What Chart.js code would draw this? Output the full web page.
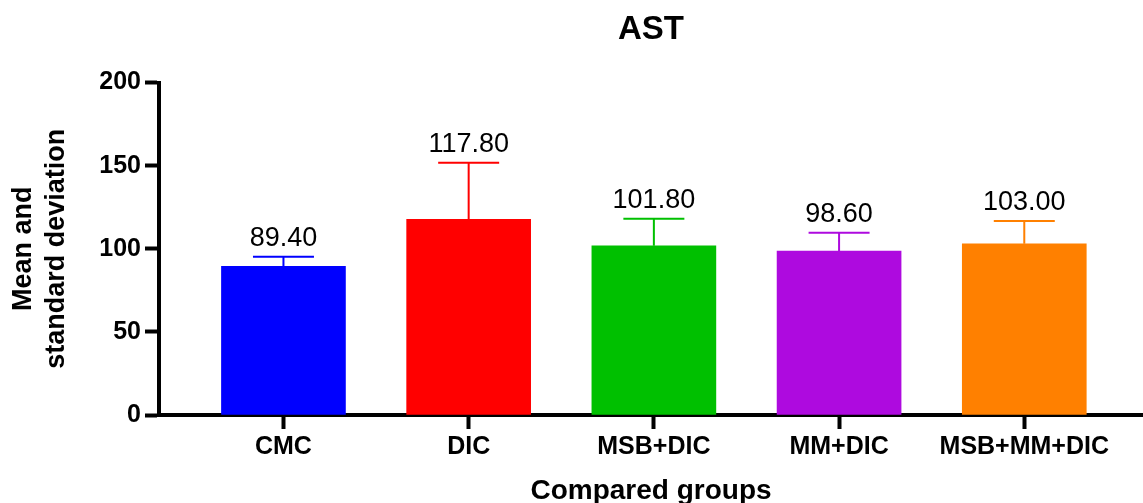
<!DOCTYPE html>
<html>
<head>
<meta charset="utf-8">
<script src="https://cdn.jsdelivr.net/npm/chart.js@4"></script>
<style>
  body { margin: 0; background: #fff; }
  canvas { display: block; }
</style>
</head>
<body>
<canvas id="chart" width="1143" height="503"></canvas>
<script>
// AST values per group
const groups = ["CMC", "DIC", "MSB+DIC", "MM+DIC", "MSB+MM+DIC"];
const means = [89.40, 117.80, 101.80, 98.60, 103.00];
const sds = [5.8, 34.0, 16.3, 11.0, 13.7];
const barColors = ["#0000FF", "#FF0000", "#00C000", "#AE0ADF", "#FF8000"];
const yTicks = [0, 50, 100, 150, 200];

Chart.defaults.font.family = "'Liberation Sans', Arial, sans-serif";
Chart.defaults.color = "#000";

// error bars + mean labels drawn on top of bars
const errorBars = {
    id: "errorBars",
    afterDatasetsDraw(chart) {
        const ctx = chart.ctx;
        const yScale = chart.scales.y;
        const meta = chart.getDatasetMeta(0);
        ctx.save();
        for (let i = 0; i < meta.data.length; i++) {
            const bar = meta.data[i];
            const yTop = yScale.getPixelForValue(means[i] + sds[i]);
            ctx.strokeStyle = barColors[i];
            ctx.lineWidth = 2;
            ctx.beginPath();
            ctx.moveTo(bar.x, bar.y);
            ctx.lineTo(bar.x, yTop);
            ctx.moveTo(bar.x - 30.5, yTop);
            ctx.lineTo(bar.x + 30.5, yTop);
            ctx.stroke();

            ctx.fillStyle = "#000";
            ctx.font = "27px 'Liberation Sans', Arial, sans-serif";
            ctx.textAlign = "center";
            ctx.textBaseline = "alphabetic";
            ctx.fillText(means[i].toFixed(2), bar.x, yTop - 11);
        }
        ctx.restore();
    }
};

const chart = new Chart(document.getElementById("chart"), {
    type: "bar",
    data: {
        datasets: [{
            data: means.map((m, i) => ({x: i + 1, y: m})),
            backgroundColor: barColors,
            borderWidth: 0,
            barThickness: 124,
        }],
    },
    options: {
        responsive: false,
        animation: false,
        layout: { padding: 0 },
        plugins: {
            legend: { display: false },
            tooltip: { enabled: false },
            title: {
                display: true,
                text: "AST",
                fullSize: false,
                font: { size: 33, weight: "bold" },
                padding: { top: 10, bottom: 33 },
            },
        },
        scales: {
            x: {
                type: "linear",
                min: 0.328,
                max: 5.641,
                offset: false,
                afterBuildTicks: (scale) => {
                    scale.ticks = groups.map((g, i) => ({value: i + 1}));
                },
                afterFit: (scale) => { scale.height = 88; },
                ticks: {
                    callback: (v) => groups[v - 1],
                    font: { size: 25, weight: "bold" },
                    padding: 3,
                    maxRotation: 0,
                    autoSkip: false,
                },
                grid: {
                    offset: false,
                    drawOnChartArea: false,
                    tickLength: 14,
                    tickWidth: 4,
                    tickColor: "#000",
                },
                border: { display: true, color: "#000", width: 4 },
                title: {
                    display: true,
                    text: "Compared groups",
                    font: { size: 28, weight: "bold", lineHeight: 1 },
                    padding: { top: 0, bottom: -2 },
                },
            },
            y: {
                min: 0,
                max: 200,
                afterBuildTicks: (scale) => {
                    scale.ticks = yTicks.map(v => ({value: v}));
                },
                afterFit: (scale) => { scale.width = 159; },
                ticks: {
                    font: { size: 25, weight: "bold" },
                    padding: 4,
                },
                grid: {
                    drawOnChartArea: false,
                    tickLength: 14,
                    tickWidth: 4,
                    tickColor: "#000",
                },
                border: { display: true, color: "#000", width: 4 },
                title: {
                    display: true,
                    text: ["Mean and", "standard deviation"],
                    font: { size: 27, weight: "bold", lineHeight: 1.22 },
                    padding: { top: 7, bottom: 0 },
                },
            },
        },
    },
    plugins: [errorBars],
});
</script>
</body>
</html>
